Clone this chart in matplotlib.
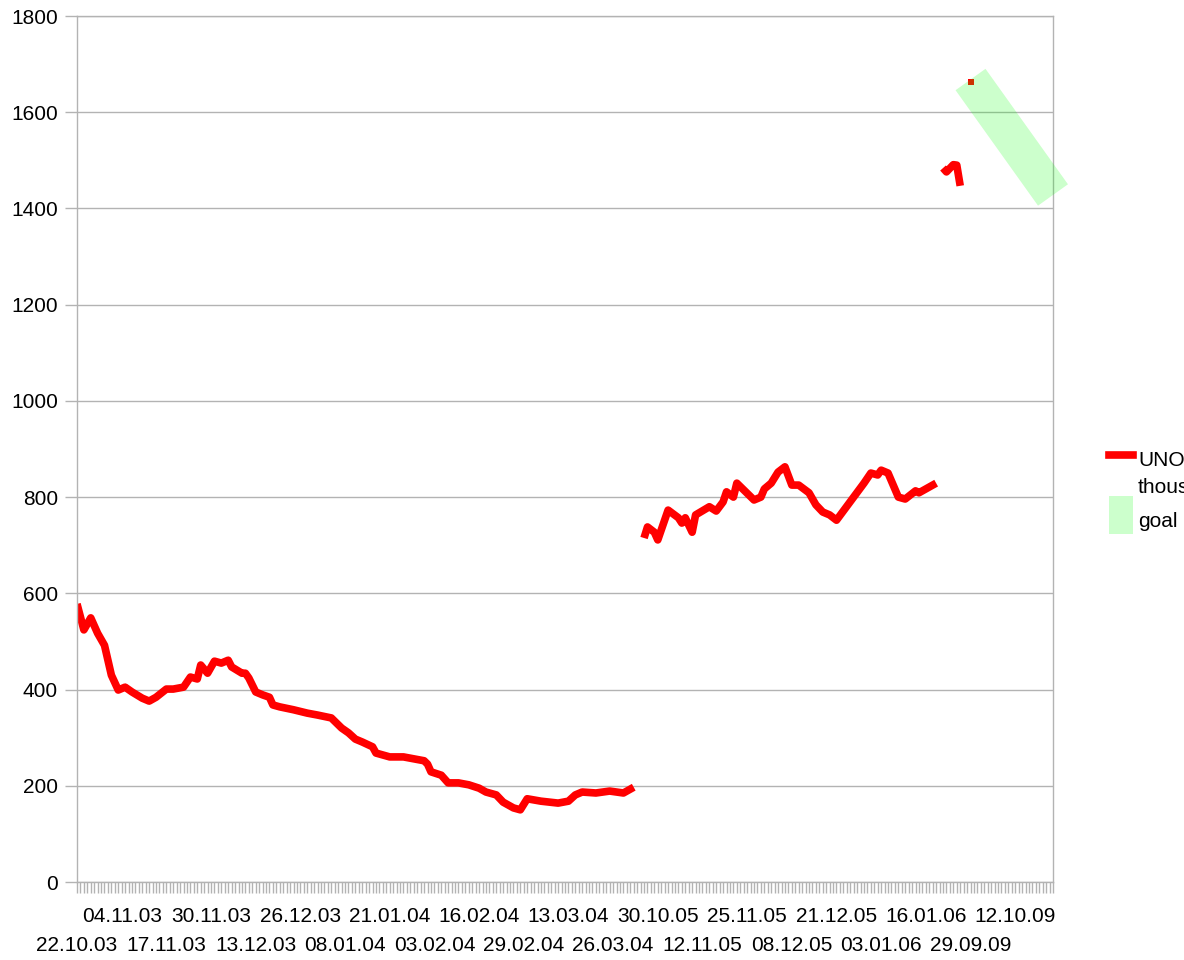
import matplotlib.pyplot as plt
from matplotlib.lines import Line2D
from matplotlib.patches import Rectangle

plt.rcParams['font.family'] = ['Liberation Sans', 'DejaVu Sans']
plt.rcParams['font.size'] = 15

# category axis: one slot per date, a label on every 13th slot
n_cats = 285
tick_dates = ['22.10.03', '04.11.03', '17.11.03', '30.11.03', '13.12.03', '26.12.03',
              '08.01.04', '21.01.04', '03.02.04', '16.02.04', '29.02.04', '13.03.04',
              '26.03.04', '30.10.05', '12.11.05', '25.11.05', '08.12.05', '21.12.05',
              '03.01.06', '16.01.06', '29.09.09', '12.10.09']

# series 1 (thousands) - three runs with gaps between them
seg1_idx = [0, 2, 4, 6, 8, 10, 12, 14, 16, 19, 21, 23, 26, 28, 31, 33, 35, 36, 38, 40,
            42, 44, 45, 48, 49, 50, 52, 54, 56, 57, 59, 63, 67, 70, 74, 77, 79, 81, 83, 86,
            87, 91, 95, 101, 102, 103, 106, 108, 111, 114, 117, 119, 122, 124, 127, 129,
            131, 135, 140, 143, 145, 147, 151, 155, 159, 162]
seg1_val = [578, 524, 549, 517, 492, 430, 399, 405, 395, 382, 376, 384, 401, 401, 405, 426,
            422, 451, 434, 459, 455, 461, 447, 434, 434, 424, 395, 389, 384, 368, 364, 358,
            351, 347, 341, 320, 310, 297, 291, 281, 268, 260, 260, 252, 245, 229, 222, 206,
            206, 202, 195, 187, 181, 166, 154, 150, 173, 168, 164, 168, 181, 187, 185, 189,
            185, 197]

seg2_idx = [165, 166, 168, 169, 172, 175, 176, 177, 179, 180, 184, 186, 188, 189, 191, 192,
            194, 197, 199, 200, 202, 204, 206, 208, 210, 213, 215, 217, 219, 221, 229, 231,
            233, 234, 236, 239, 241, 244, 245, 250]
seg2_val = [715, 738, 727, 711, 773, 757, 746, 757, 727, 763, 780, 771, 790, 811, 800, 829,
            815, 794, 800, 817, 829, 852, 863, 825, 825, 809, 784, 769, 763, 752, 829, 850,
            846, 856, 850, 800, 796, 813, 809, 829]

seg3_idx = [252, 253, 255, 256, 257]
seg3_val = [1484, 1476, 1491, 1490, 1447]

single_idx = [260]
single_val = [1663]

# goal series
goal_idx = [260, 284]
goal_val = [1668, 1428]

grey = '#b3b3b3'

fig = plt.figure(figsize=(11.84, 9.6), dpi=100)
ax = fig.add_axes([77 / 1184, 78 / 960, 976 / 1184, 866 / 960])

for idx, val in [(seg1_idx, seg1_val), (seg2_idx, seg2_val), (seg3_idx, seg3_val)]:
    ax.plot(idx, val, color='red', lw=5.5, solid_joinstyle='round', solid_capstyle='butt', zorder=2)
ax.plot(single_idx, single_val, 's', color='red', ms=5, mew=0, zorder=2)
ax.plot(goal_idx, goal_val, color=(0, 1, 0, 0.2), lw=26.5, solid_capstyle='butt',
        clip_on=False, zorder=3)

ax.set_xlim(0, n_cats - 1)
ax.set_ylim(0, 1800)
ax.set_yticks(range(0, 1801, 200))
ax.yaxis.grid(True, color=grey, lw=1)
ax.set_axisbelow(True)

labels = [d if k % 2 else '\n' + d for k, d in enumerate(tick_dates)]
ax.set_xticks([13 * k for k in range(len(tick_dates))], labels)
ax.set_xticks(range(n_cats), minor=True)
ax.tick_params(axis='x', which='both', length=8, color=grey, width=1, pad=10)
ax.tick_params(axis='y', length=8.6, color=grey, width=1, pad=5)
for lbl in ax.get_xticklabels():
    lbl.set_linespacing(1.65)

for s in ax.spines.values():
    s.set_color(grey)
    s.set_linewidth(1)

# legend, cut off at the right edge like the original
W, H = 1184, 960
fig.add_artist(Line2D([1109 / W, 1133 / W], [1 - 455 / H] * 2, color='red', lw=5.5,
                      transform=fig.transFigure))
fig.add_artist(Rectangle((1109 / W, 1 - 534 / H), 24 / W, 38 / H, facecolor=(0, 1, 0, 0.2),
                         edgecolor='none', transform=fig.transFigure))
fig.text(1138 / W, 1 - 466 / H, 'UNO', va='baseline')
fig.text(1138 / W, 1 - 493 / H, 'thousands', va='baseline')
fig.text(1138 / W, 1 - 527 / H, 'goal', va='baseline')

fig.savefig('out.png', dpi=100)
